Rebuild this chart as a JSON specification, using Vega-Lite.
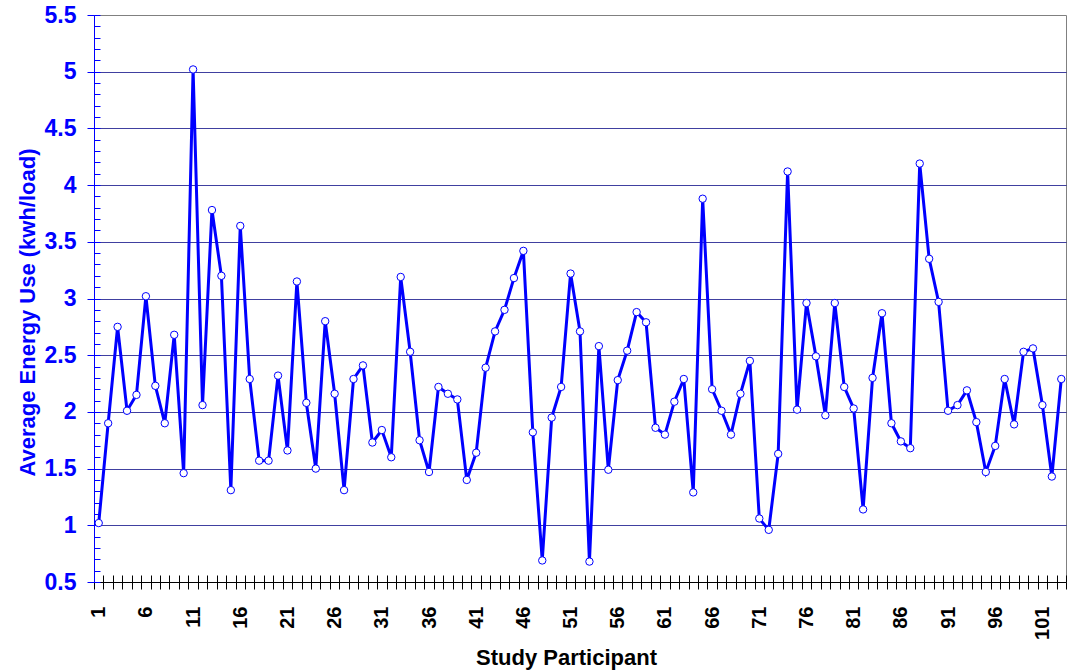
{
  "$schema": "https://vega.github.io/schema/vega-lite/v6.json",
  "width": 972,
  "height": 567,
  "autosize": {"type": "none"},
  "padding": {"left": 94, "top": 15, "right": 1, "bottom": 89},
  "background": "white",
  "config": {
    "view": {"stroke": "#808080", "strokeWidth": 1},
    "font": "Liberation Sans"
  },
  "data": {
    "values": [
      {"p": 1, "kwh": 1.02}, {"p": 2, "kwh": 1.90}, {"p": 3, "kwh": 2.75}, {"p": 4, "kwh": 2.01}, {"p": 5, "kwh": 2.15},
      {"p": 6, "kwh": 3.02}, {"p": 7, "kwh": 2.23}, {"p": 8, "kwh": 1.90}, {"p": 9, "kwh": 2.68}, {"p": 10, "kwh": 1.46},
      {"p": 11, "kwh": 5.02}, {"p": 12, "kwh": 2.06}, {"p": 13, "kwh": 3.78}, {"p": 14, "kwh": 3.20}, {"p": 15, "kwh": 1.31},
      {"p": 16, "kwh": 3.64}, {"p": 17, "kwh": 2.29}, {"p": 18, "kwh": 1.57}, {"p": 19, "kwh": 1.57}, {"p": 20, "kwh": 2.32},
      {"p": 21, "kwh": 1.66}, {"p": 22, "kwh": 3.15}, {"p": 23, "kwh": 2.08}, {"p": 24, "kwh": 1.50}, {"p": 25, "kwh": 2.80},
      {"p": 26, "kwh": 2.16}, {"p": 27, "kwh": 1.31}, {"p": 28, "kwh": 2.29}, {"p": 29, "kwh": 2.41}, {"p": 30, "kwh": 1.73},
      {"p": 31, "kwh": 1.84}, {"p": 32, "kwh": 1.60}, {"p": 33, "kwh": 3.19}, {"p": 34, "kwh": 2.53}, {"p": 35, "kwh": 1.75},
      {"p": 36, "kwh": 1.47}, {"p": 37, "kwh": 2.22}, {"p": 38, "kwh": 2.16}, {"p": 39, "kwh": 2.11}, {"p": 40, "kwh": 1.40},
      {"p": 41, "kwh": 1.64}, {"p": 42, "kwh": 2.39}, {"p": 43, "kwh": 2.71}, {"p": 44, "kwh": 2.90}, {"p": 45, "kwh": 3.18},
      {"p": 46, "kwh": 3.42}, {"p": 47, "kwh": 1.82}, {"p": 48, "kwh": 0.69}, {"p": 49, "kwh": 1.95}, {"p": 50, "kwh": 2.22},
      {"p": 51, "kwh": 3.22}, {"p": 52, "kwh": 2.71}, {"p": 53, "kwh": 0.68}, {"p": 54, "kwh": 2.58}, {"p": 55, "kwh": 1.49},
      {"p": 56, "kwh": 2.28}, {"p": 57, "kwh": 2.54}, {"p": 58, "kwh": 2.88}, {"p": 59, "kwh": 2.79}, {"p": 60, "kwh": 1.86},
      {"p": 61, "kwh": 1.80}, {"p": 62, "kwh": 2.09}, {"p": 63, "kwh": 2.29}, {"p": 64, "kwh": 1.29}, {"p": 65, "kwh": 3.88},
      {"p": 66, "kwh": 2.20}, {"p": 67, "kwh": 2.01}, {"p": 68, "kwh": 1.80}, {"p": 69, "kwh": 2.16}, {"p": 70, "kwh": 2.45},
      {"p": 71, "kwh": 1.06}, {"p": 72, "kwh": 0.96}, {"p": 73, "kwh": 1.63}, {"p": 74, "kwh": 4.12}, {"p": 75, "kwh": 2.02},
      {"p": 76, "kwh": 2.96}, {"p": 77, "kwh": 2.49}, {"p": 78, "kwh": 1.97}, {"p": 79, "kwh": 2.96}, {"p": 80, "kwh": 2.22},
      {"p": 81, "kwh": 2.03}, {"p": 82, "kwh": 1.14}, {"p": 83, "kwh": 2.30}, {"p": 84, "kwh": 2.87}, {"p": 85, "kwh": 1.90},
      {"p": 86, "kwh": 1.74}, {"p": 87, "kwh": 1.68}, {"p": 88, "kwh": 4.19}, {"p": 89, "kwh": 3.35}, {"p": 90, "kwh": 2.97},
      {"p": 91, "kwh": 2.01}, {"p": 92, "kwh": 2.06}, {"p": 93, "kwh": 2.19}, {"p": 94, "kwh": 1.91}, {"p": 95, "kwh": 1.47},
      {"p": 96, "kwh": 1.70}, {"p": 97, "kwh": 2.29}, {"p": 98, "kwh": 1.89}, {"p": 99, "kwh": 2.53}, {"p": 100, "kwh": 2.56},
      {"p": 101, "kwh": 2.06}, {"p": 102, "kwh": 1.43}, {"p": 103, "kwh": 2.29}
    ]
  },
  "resolve": {"axis": {"x": "independent", "y": "independent"}},
  "layer": [
    {
      "mark": {"type": "line", "color": "#0000ff", "strokeWidth": 3},
      "encoding": {
        "x": {
          "field": "p", "type": "quantitative",
          "scale": {"domain": [0.5, 103.5], "nice": false, "zero": false},
          "axis": {
            "orient": "bottom",
            "values": [1, 6, 11, 16, 21, 26, 31, 36, 41, 46, 51, 56, 61, 66, 71, 76, 81, 86, 91, 96, 101],
            "ticks": false, "grid": false,
            "domainColor": "#000000", "domainWidth": 1,
            "labelAngle": -90, "labelFont": "Liberation Sans", "labelFontWeight": "bold", "labelFontSize": 20,
            "labelColor": "#000000", "labelPadding": 24,
            "title": "Study Participant", "titleFont": "Liberation Sans", "titleFontWeight": "bold",
            "titleFontSize": 22, "titleColor": "#000000", "titlePadding": 8, "titleX": 472
          }
        },
        "y": {
          "field": "kwh", "type": "quantitative",
          "scale": {"domain": [0.5, 5.5], "nice": false, "zero": false},
          "axis": {
            "orient": "left",
            "values": [0.5, 1, 1.5, 2, 2.5, 3, 3.5, 4, 4.5, 5, 5.5],
            "format": ".1~f",
            "grid": true,
            "gridColor": {"condition": {"test": "datum.value >= 5.4 || datum.value <= 0.6", "value": "transparent"}, "value": "#000080"},
            "gridWidth": 1, "gridOpacity": 0.75,
            "tickSize": 7, "tickColor": "#0000ff",
            "domainColor": "#0000ff", "domainWidth": 1,
            "labelFont": "Liberation Sans", "labelFontWeight": "bold", "labelFontSize": 23,
            "labelColor": "#0000ff", "labelPadding": 11,
            "title": "Average Energy Use (kwh/load)", "titleFont": "Liberation Sans", "titleFontWeight": "bold",
            "titleFontSize": 22, "titleColor": "#0000ff", "titlePadding": 5, "titleY": 297
          }
        }
      }
    },
    {
      "mark": {"type": "point", "shape": "circle", "filled": true, "fill": "#ffffff", "stroke": "#0000ff", "strokeWidth": 1, "size": 55, "opacity": 1},
      "encoding": {
        "x": {
          "field": "p", "type": "quantitative",
          "axis": {
            "orient": "bottom",
            "values": [0.5, 1.5, 2.5, 3.5, 4.5, 5.5, 6.5, 7.5, 8.5, 9.5, 10.5, 11.5, 12.5, 13.5, 14.5, 15.5, 16.5, 17.5, 18.5, 19.5, 20.5, 21.5, 22.5, 23.5, 24.5, 25.5, 26.5, 27.5, 28.5, 29.5, 30.5, 31.5, 32.5, 33.5, 34.5, 35.5, 36.5, 37.5, 38.5, 39.5, 40.5, 41.5, 42.5, 43.5, 44.5, 45.5, 46.5, 47.5, 48.5, 49.5, 50.5, 51.5, 52.5, 53.5, 54.5, 55.5, 56.5, 57.5, 58.5, 59.5, 60.5, 61.5, 62.5, 63.5, 64.5, 65.5, 66.5, 67.5, 68.5, 69.5, 70.5, 71.5, 72.5, 73.5, 74.5, 75.5, 76.5, 77.5, 78.5, 79.5, 80.5, 81.5, 82.5, 83.5, 84.5, 85.5, 86.5, 87.5, 88.5, 89.5, 90.5, 91.5, 92.5, 93.5, 94.5, 95.5, 96.5, 97.5, 98.5, 99.5, 100.5, 101.5, 102.5, 103.5],
            "tickSize": 7, "tickColor": "#000000", "labels": false, "domain": false, "grid": false, "title": null
          }
        },
        "y": {
          "field": "kwh", "type": "quantitative",
          "axis": {
            "orient": "left",
            "values": [0.5, 0.6, 0.7, 0.8, 0.9, 1, 1.1, 1.2, 1.3, 1.4, 1.5, 1.6, 1.7, 1.8, 1.9, 2, 2.1, 2.2, 2.3, 2.4, 2.5, 2.6, 2.7, 2.8, 2.9, 3, 3.1, 3.2, 3.3, 3.4, 3.5, 3.6, 3.7, 3.8, 3.9, 4, 4.1, 4.2, 4.3, 4.4, 4.5, 4.6, 4.7, 4.8, 4.9, 5, 5.1, 5.2, 5.3, 5.4, 5.5],
            "tickSize": -6, "tickColor": "#0000ff", "labels": false, "domain": false, "grid": false, "title": null
          }
        }
      }
    },
    {
      "mark": {"type": "point", "shape": "circle", "filled": true, "fill": "#ffffff", "stroke": "#0000ff", "strokeWidth": 1, "size": 55, "opacity": 0},
      "encoding": {
        "x": {
          "field": "p", "type": "quantitative",
          "axis": {
            "orient": "bottom",
            "values": [0.5, 1.5, 2.5, 3.5, 4.5, 5.5, 6.5, 7.5, 8.5, 9.5, 10.5, 11.5, 12.5, 13.5, 14.5, 15.5, 16.5, 17.5, 18.5, 19.5, 20.5, 21.5, 22.5, 23.5, 24.5, 25.5, 26.5, 27.5, 28.5, 29.5, 30.5, 31.5, 32.5, 33.5, 34.5, 35.5, 36.5, 37.5, 38.5, 39.5, 40.5, 41.5, 42.5, 43.5, 44.5, 45.5, 46.5, 47.5, 48.5, 49.5, 50.5, 51.5, 52.5, 53.5, 54.5, 55.5, 56.5, 57.5, 58.5, 59.5, 60.5, 61.5, 62.5, 63.5, 64.5, 65.5, 66.5, 67.5, 68.5, 69.5, 70.5, 71.5, 72.5, 73.5, 74.5, 75.5, 76.5, 77.5, 78.5, 79.5, 80.5, 81.5, 82.5, 83.5, 84.5, 85.5, 86.5, 87.5, 88.5, 89.5, 90.5, 91.5, 92.5, 93.5, 94.5, 95.5, 96.5, 97.5, 98.5, 99.5, 100.5, 101.5, 102.5, 103.5],
            "tickSize": -7, "tickColor": "#000000", "labels": false, "domain": false, "grid": false, "title": null
          }
        },
        "y": {"field": "kwh", "type": "quantitative", "axis": null}
      }
    }
  ]
}
